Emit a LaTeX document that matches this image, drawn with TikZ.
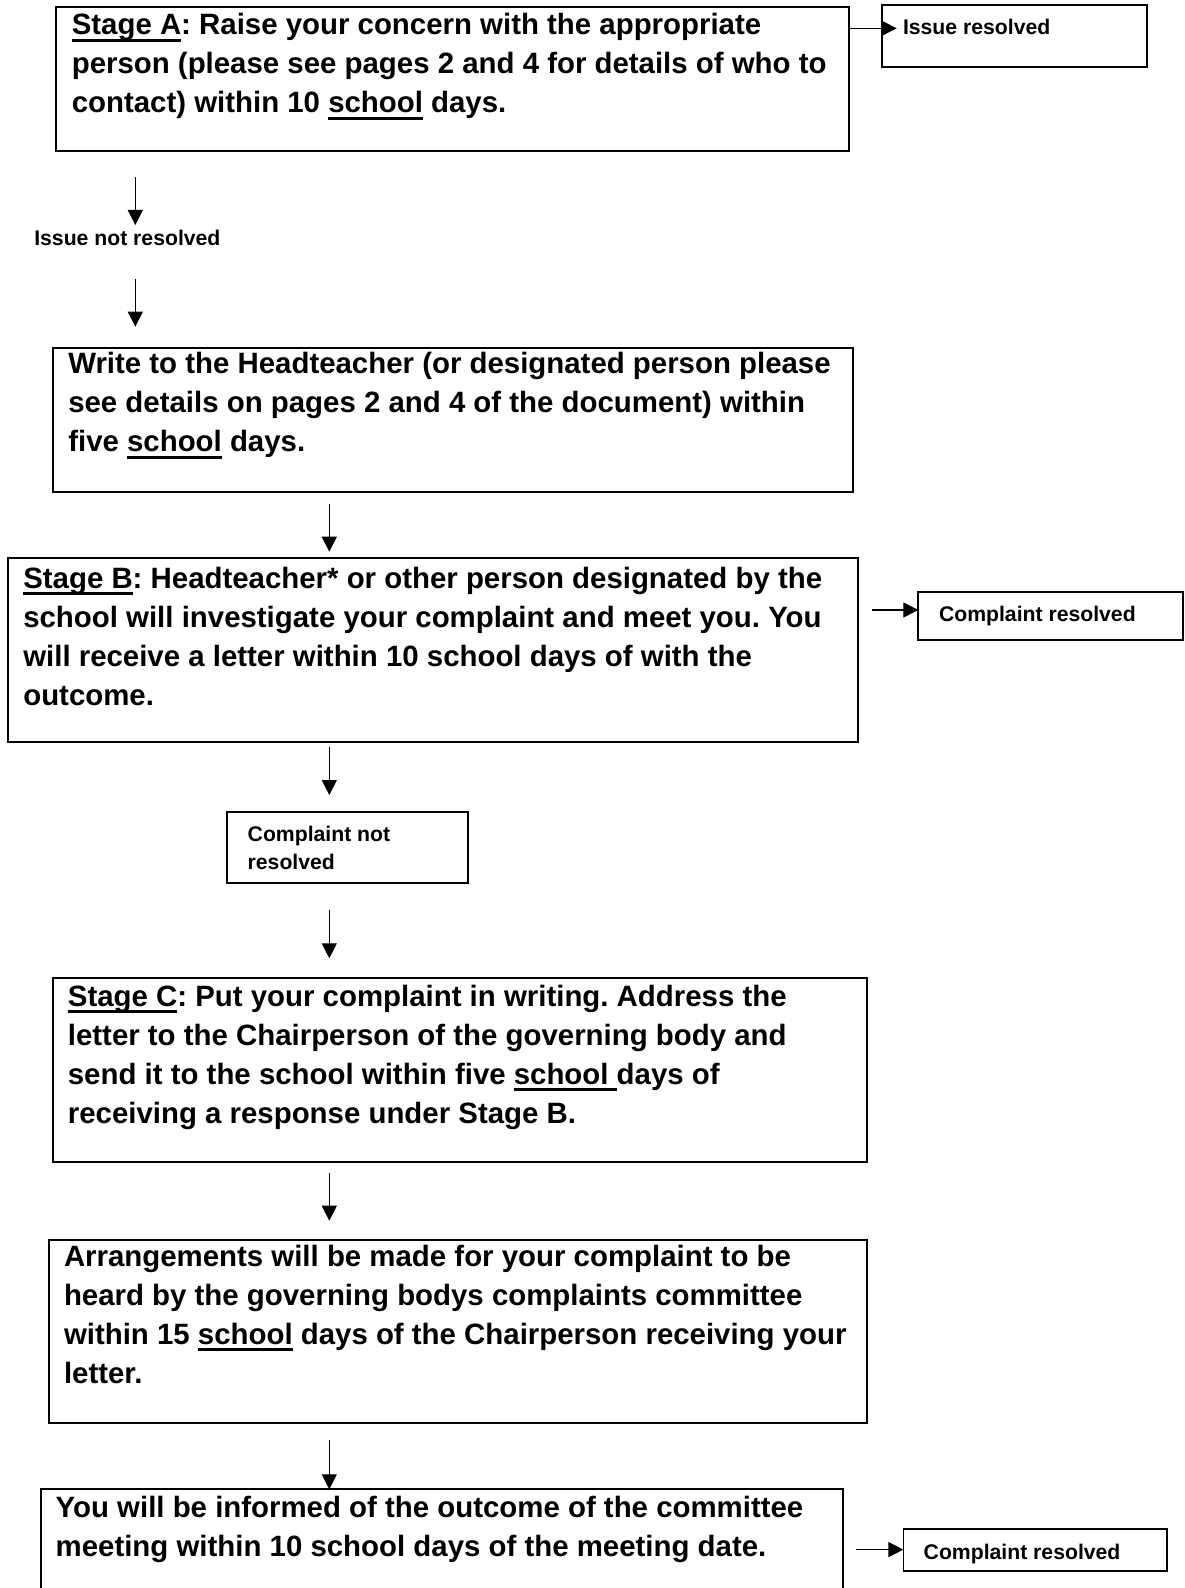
\documentclass[tikz,border=0pt]{standalone}
\usepackage{fontspec}
\setmainfont{Liberation Sans}
\usetikzlibrary{arrows.meta}
\frenchspacing
\newcommand\myul[1]{\setbox0=\hbox{#1}\rlap{\rule[-0.24em]{\wd0}{0.09em}}\box0\relax}
\newcommand\mlines[1]{\vtop{\let\\\cr\halign{##\hfil\cr#1\crcr}}}
\tikzset{
  stagebox/.style={draw, line width=1pt, rectangle, anchor=north west, inner sep=0pt, outer sep=0pt},
  smallbox/.style={stagebox, line width=0.85pt},
  bigtxt/.style={anchor=base west, inner sep=0pt, outer sep=0pt, font=\fontsize{14.7}{19.5}\selectfont\bfseries},
  smalltxt/.style={anchor=base west, inner sep=0pt, outer sep=0pt, font=\fontsize{10.6}{13.8}\selectfont\bfseries},
  arr/.style={-{Triangle[length=7.5pt,width=7.5pt]}, line width=0.6pt},
}
\begin{document}
\frenchspacing
\begin{tikzpicture}[x=0.5pt,y=-0.5pt]
\fill[white] (0,0) rectangle (1184,1588);
\useasboundingbox (0,0) rectangle (1184,1588);

% Stage A
\node[stagebox, minimum width=396.65pt, minimum height=72pt] (A) at (55.7,6.7) {};
\node[bigtxt] (At) at (71.8,34.5) {\mlines{\myul{Stage A}: Raise your concern with the appropriate\\person (please see pages 2 and 4 for details of who to\\contact) within 10 \myul{school} days.}};

% Issue resolved
\node[smallbox, minimum width=132.5pt, minimum height=31pt] (IR) at (881.7,4.7) {};
\node[smalltxt] (IRt) at (903,34.3) {Issue resolved};
\coordinate (aIRs) at (849,28.3);
\coordinate (aIRe) at (896.7,28.3);
\draw[arr] (aIRs) -- (aIRe);

% Issue not resolved
\coordinate (a1s) at (135.3,177.3);
\coordinate (a1e) at (135.3,225);
\draw[arr] (a1s) -- (a1e);
\node[smalltxt] (INR) at (34.3,246) {Issue not resolved};
\coordinate (a2s) at (135.3,279.3);
\coordinate (a2e) at (135.3,326.7);
\draw[arr] (a2s) -- (a2e);

% Write to the Headteacher
\node[stagebox, minimum width=399.75pt, minimum height=72.15pt] (W) at (53.3,347.7) {};
\node[bigtxt] (Wt) at (68.3,374) {\mlines{Write to the Headteacher (or designated person please\\see details on pages 2 and 4 of the document) within\\five \myul{school} days.}};

\coordinate (a3s) at (329.3,504);
\coordinate (a3e) at (329.3,551.7);
\draw[arr] (a3s) -- (a3e);

% Stage B
\node[stagebox, minimum width=424.7pt, minimum height=91.7pt] (B) at (8.3,558.3) {};
\node[bigtxt] (Bt) at (23.3,588) {\mlines{\myul{Stage B}: Headteacher* or other person designated by the\\school will investigate your complaint and meet you. You\\will receive a letter within 10 school days of with the\\outcome.}};

% Complaint resolved 1
\node[smallbox, minimum width=132.35pt, minimum height=24pt] (CR1) at (918.3,592) {};
\node[smalltxt] (CR1t) at (939,621.7) {Complaint resolved};
\coordinate (b1s) at (871.7,610);
\draw[arr] (b1s) -- (b1s -| CR1.west);

% Complaint not resolved
\coordinate (a4s) at (329.3,746.7);
\coordinate (a4e) at (329.3,795);
\draw[arr] (a4s) -- (a4e);
\node[smallbox, minimum width=120.2pt, minimum height=35.8pt] (CNR) at (227.3,811.7) {};
\node[smalltxt] (CNRt) at (247.7,841.7) {\mlines{Complaint not\\resolved}};
\coordinate (a5s) at (329.3,910);
\coordinate (a5e) at (329.3,958.3);
\draw[arr] (a5s) -- (a5e);

% Stage C
\node[stagebox, minimum width=406.85pt, minimum height=91.7pt] (C) at (53.3,978.3) {};
\node[bigtxt] (Ct) at (67.9,1006) {\mlines{\myul{Stage C}: Put your complaint in writing. Address the\\letter to the Chairperson of the governing body and\\send it to the school within five \myul{school\ }days of\\receiving a response under Stage B.}};

\coordinate (a6s) at (329.3,1173.3);
\coordinate (a6e) at (329.3,1220.7);
\draw[arr] (a6s) -- (a6e);

% Arrangements
\node[stagebox, minimum width=409pt, minimum height=91.5pt] (R) at (49,1240) {};
\node[bigtxt] (Rt) at (64,1266) {\mlines{Arrangements will be made for your complaint to be\\heard by the governing bodys complaints committee\\within 15 \myul{school} days of the Chairperson receiving your\\letter.}};

% Outcome
\node[stagebox, minimum width=401.05pt, minimum height=65.35pt] (L) at (40.5,1489.3) {};
\node[bigtxt] (Lt) at (55.7,1517) {\mlines{You will be informed of the outcome of the committee\\meeting within 10 school days of the meeting date.}};

\coordinate (a7s) at (329.3,1440);
\draw[arr] (a7s) -- (a7s |- L.north);

% Complaint resolved 2
\node[smallbox, minimum width=131.65pt, minimum height=20.85pt] (CR2) at (903.4,1529.3) {};
\node[smalltxt] (CR2t) at (923.7,1559) {Complaint resolved};
\coordinate (l1s) at (855.8,1549.6);
\draw[arr] (l1s) -- (l1s -| CR2.west);
\end{tikzpicture}
\end{document}
